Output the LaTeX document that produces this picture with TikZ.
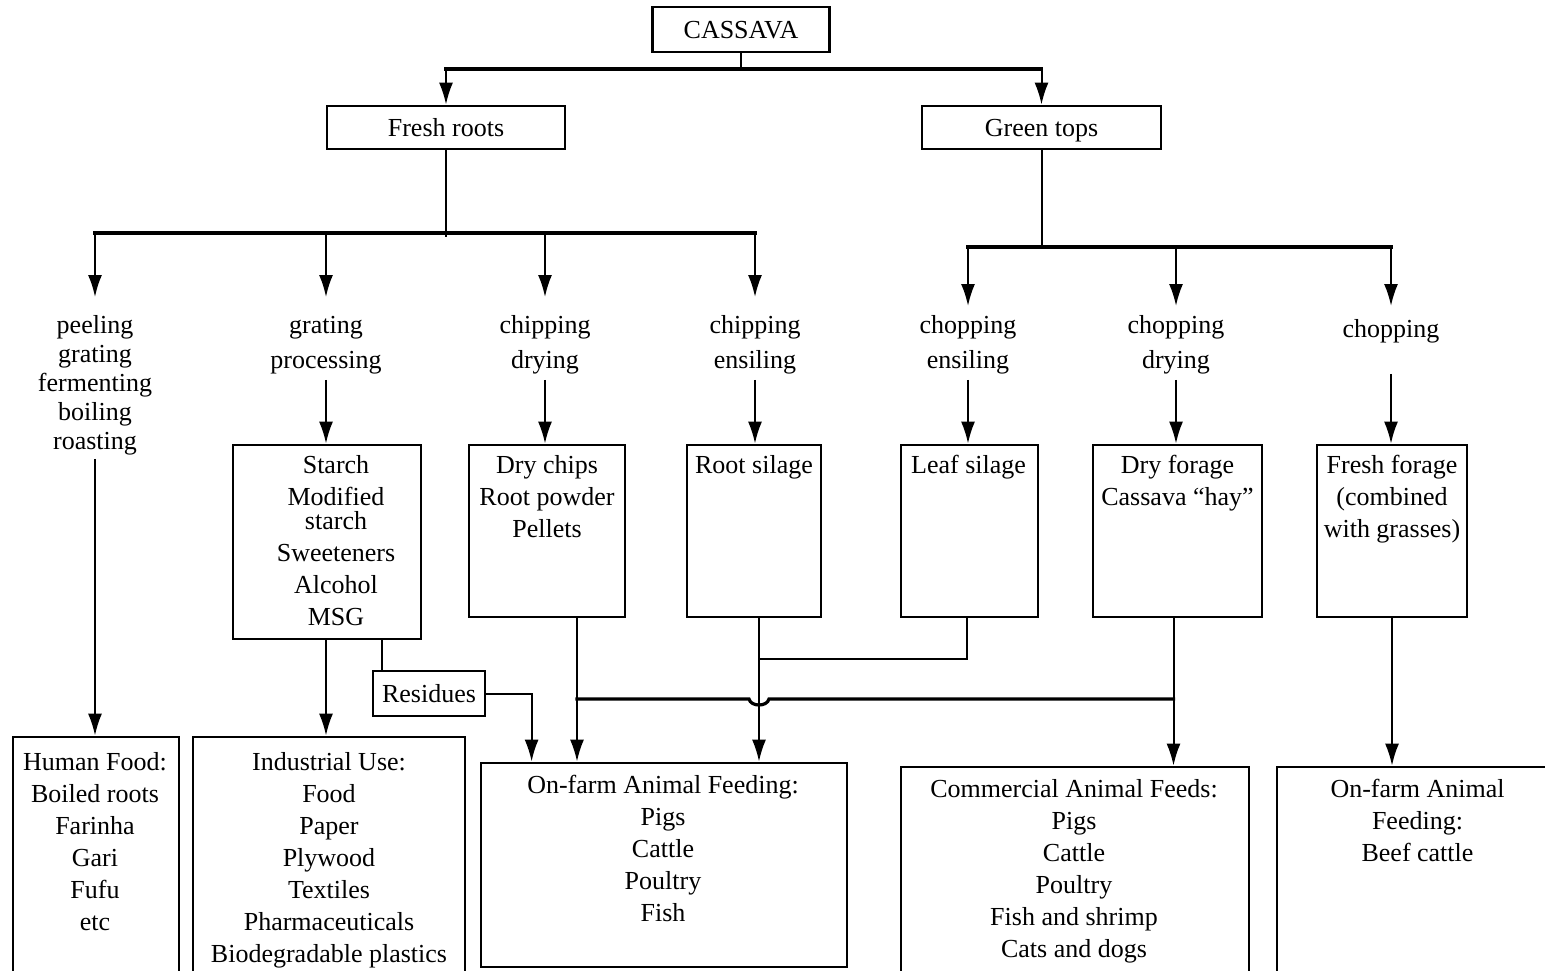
\documentclass[tikz,border=0pt]{standalone}
\usepackage{fontspec}
\setmainfont{Liberation Serif}
\usetikzlibrary{arrows.meta}
\newcommand{\fsA}{\fontsize{13}{16}\selectfont}
\newcommand{\fsB}{\fontsize{13}{14.5}\selectfont}
\newcommand{\fsC}{\fontsize{13}{17.5}\selectfont}
\newcommand{\SX}{\strut}
\begin{document}
\begin{tikzpicture}[x=0.5pt,y=-0.5pt,
  box/.style={draw,line width=1.4pt,inner sep=0pt},
  single/.style={box,font=\fsA,text height=10.5pt,text depth=2pt},
  txt/.style={align=center,inner sep=0pt,font=\fsA},
  ln/.style={line width=1pt},
  bus/.style={line width=1.6pt,line cap=rect},
  arr/.style={line width=1pt,-{Latex[length=11pt,width=7pt]}}]
\useasboundingbox (0,0) rectangle (1545,970);
\clip (0,0) rectangle (1545,970);

% top level
\node[single,minimum width=88.5pt,minimum height=22.5pt] (cassava) at (741,29.5) {CASSAVA};
\node[single,minimum width=119pt,minimum height=21.5pt] (fresh) at (446,127.5) {Fresh roots};
\node[single,minimum width=119.5pt,minimum height=21.5pt] (green) at (1041.5,127.5) {Green tops};

% process labels
\node[txt,font=\fsB,anchor=north] (peel) at (95,313) {\SX peeling\\ \SX grating\\ \SX fermenting\\ \SX boiling\\ \SX roasting};
\node[txt,font=\fsC,anchor=north] (grat) at (326,309) {\SX grating\\ \SX processing};
\node[txt,font=\fsC,anchor=north] (chipd) at (545,309) {\SX chipping\\ \SX drying};
\node[txt,font=\fsC,anchor=north] (chipe) at (755,309) {\SX chipping\\ \SX ensiling};
\node[txt,font=\fsC,anchor=north] (chope) at (968,309) {\SX chopping\\ \SX ensiling};
\node[txt,font=\fsC,anchor=north] (chopd) at (1176,309) {\SX chopping\\ \SX drying};
\node[txt,anchor=north] (chop) at (1391,315) {\SX chopping};

% product boxes
\node[box,minimum width=94pt,minimum height=97pt] (starch) at (327,542) {};
\node[txt,anchor=north] (starch-t) at ([xshift=4.5pt,yshift=-3.5pt]starch.north) {\SX Starch\\ \SX Modified\\[-4pt] \SX starch\\ \SX Sweeteners\\ \SX Alcohol\\ \SX MSG};
\node[box,minimum width=78pt,minimum height=86pt] (drychips) at (547,531) {};
\node[txt,anchor=north] (drychips-t) at ([yshift=-3.5pt]drychips.north) {\SX Dry chips\\ \SX Root powder\\ \SX Pellets};
\node[box,minimum width=67pt,minimum height=86pt] (rootsil) at (754,531) {};
\node[txt,anchor=north] (rootsil-t) at ([yshift=-3.5pt]rootsil.north) {\SX Root silage};
\node[box,minimum width=68.5pt,minimum height=86pt] (leafsil) at (969.5,531) {};
\node[txt,anchor=north] (leafsil-t) at ([xshift=-0.5pt,yshift=-3.5pt]leafsil.north) {\SX Leaf silage};
\node[box,minimum width=84.5pt,minimum height=86pt] (dryfor) at (1177.5,531) {};
\node[txt,anchor=north] (dryfor-t) at ([yshift=-3.5pt]dryfor.north) {\SX Dry forage\\ \SX Cassava “hay”};
\node[box,minimum width=75pt,minimum height=86pt] (freshfor) at (1392,531) {};
\node[txt,anchor=north] (freshfor-t) at ([yshift=-3.5pt]freshfor.north) {\SX Fresh forage\\ \SX (combined\\ \SX with grasses)};

\node[single,minimum width=56pt,minimum height=22.5pt] (res) at (429,693.5) {Residues};

% use boxes
\node[box,minimum width=83pt,minimum height=131.5pt] (human) at (96,868.5) {};
\node[txt,anchor=north] (human-t) at ([xshift=-0.5pt,yshift=-6pt]human.north) {\SX Human Food:\\ \SX Boiled roots\\ \SX Farinha\\ \SX Gari\\ \SX Fufu\\ \SX etc};
\node[box,minimum width=136pt,minimum height=131.5pt] (indus) at (329,868.5) {};
\node[txt,anchor=north] (indus-t) at ([yshift=-6pt]indus.north) {\SX Industrial Use:\\ \SX Food\\ \SX Paper\\ \SX Plywood\\ \SX Textiles\\ \SX Pharmaceuticals\\ \SX Biodegradable plastics};
\node[box,minimum width=183pt,minimum height=102pt] (onfarm) at (664,865) {};
\node[txt,anchor=north] (onfarm-t) at ([xshift=-0.5pt,yshift=-4.5pt]onfarm.north) {\SX On-farm Animal Feeding:\\ \SX Pigs\\ \SX Cattle\\ \SX Poultry\\ \SX Fish};
\node[box,minimum width=174pt,minimum height=116.5pt] (comm) at (1075,883.5) {};
\node[txt,anchor=north] (comm-t) at ([xshift=-0.5pt,yshift=-4.5pt]comm.north) {\SX Commercial Animal Feeds:\\ \SX Pigs\\ \SX Cattle\\ \SX Poultry\\ \SX Fish and shrimp\\ \SX Cats and dogs};
\node[box,minimum width=140.5pt,minimum height=116.5pt] (onfarm2) at (1417.5,883.5) {};
\node[txt,anchor=north] (onfarm2-t) at ([yshift=-4.5pt]onfarm2.north) {\SX On-farm Animal\\ \SX Feeding:\\ \SX Beef cattle};

% helper coordinates (levels)
\coordinate (busT) at (0,69);
\coordinate (busL) at (0,233);
\coordinate (busR) at (0,247);
\coordinate (tipL) at (0,297);
\coordinate (tipR) at (0,306);
\coordinate (leafY) at (0,659);
\coordinate (busM) at (0,699);

% top connectors
\draw[ln] (cassava.south) -- (cassava.south |- busT);
\draw[bus] (fresh.north |- busT) -- (green.north |- busT);
\draw[arr] (fresh.north |- busT) -- (fresh.north);
\draw[arr] (green.north |- busT) -- (green.north);

% fresh roots branches
\draw[ln] (fresh.south) -- ++(0,87);
\draw[bus] (peel.north |- busL) -- (chipe.north |- busL);
\foreach \n in {peel,grat,chipd,chipe}
  \draw[arr] (\n.north |- busL) -- (\n.north |- tipL);

% green tops branches
\draw[ln] (green.south) -- (green.south |- busR);
\draw[bus] (chope.north |- busR) -- (chop.north |- busR);
\foreach \n in {chope,chopd,chop}
  \draw[arr] (\n.north |- busR) -- (\n.north |- tipR);

% labels to boxes
\draw[arr] (peel.south) -- (peel.south |- human.north);
\draw[arr] (grat.south) -- (grat.south |- starch.north);
\draw[arr] (chipd.south) -- (chipd.south |- drychips.north);
\draw[arr] (chipe.south) -- (chipe.south |- rootsil.north);
\draw[arr] (chope.south) -- (chope.south |- leafsil.north);
\draw[arr] (chopd.south) -- (chopd.south |- dryfor.north);
\draw[arr] ([yshift=-13pt]chop.south) -- (chop.south |- freshfor.north);

% starch outputs
\path ([xshift=-0.5pt]starch.south) coordinate (stS);
\draw[arr] (stS) -- (stS |- indus.north);
\path ([xshift=5pt]res.north west) coordinate (resTop);
\draw[ln] (resTop) -- (resTop |- starch.south);
\path ([xshift=26pt]onfarm.north west) coordinate (ofA);
\draw[arr] (res.east) -| (ofA);

% feed connectors
\path ([xshift=15pt]drychips.south) coordinate (dcS);
\path ([xshift=2.5pt]rootsil.south) coordinate (rsS);
\path ([xshift=-1.25pt]leafsil.south) coordinate (lsS);
\path ([xshift=-2pt]dryfor.south) coordinate (dfS);
\path (rsS |- busM) coordinate (hopC);
\draw[arr] (dcS) -- (dcS |- onfarm.north);
\draw[arr] (rsS) -- (rsS |- onfarm.north);
\draw[ln] (lsS) -- (lsS |- leafY) -- (rsS |- leafY);
\draw[arr] (dfS) -- (dfS |- comm.north);
\draw[bus] (dcS |- busM) -- ([xshift=-5pt]hopC)
  .. controls ([xshift=-4pt,yshift=-4pt]hopC) and ([xshift=4pt,yshift=-4pt]hopC) .. ([xshift=5pt]hopC)
  -- (dfS |- busM);
\draw[arr] (freshfor.south) -- (freshfor.south |- onfarm2.north);
\end{tikzpicture}
\end{document}
